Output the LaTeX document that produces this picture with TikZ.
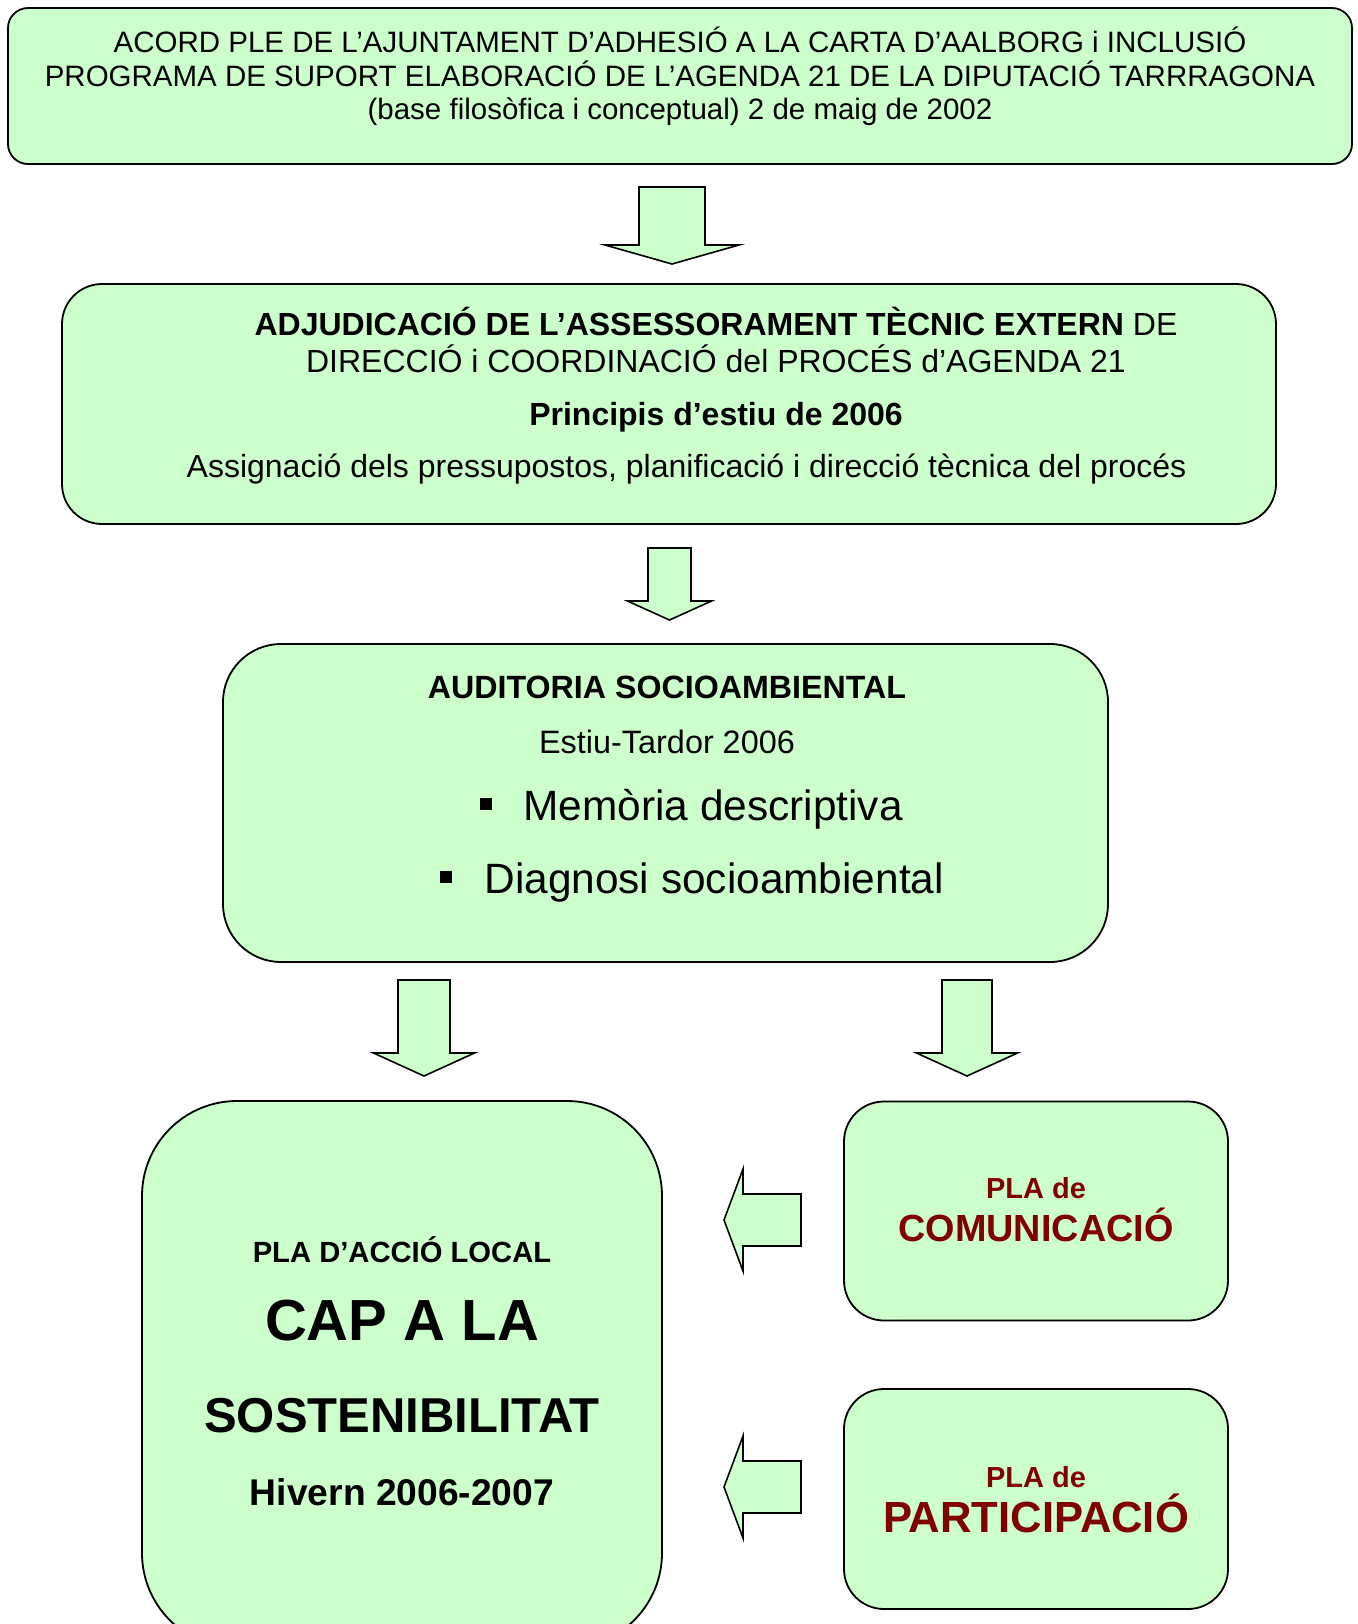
\documentclass[tikz,border=0pt]{standalone}
\usepackage{fontspec}
\setmainfont{Liberation Sans}
\usepackage{xcolor}
\definecolor{boxgreen}{RGB}{204,255,204}
\definecolor{plared}{RGB}{128,0,0}
\newcommand\fsz[1]{\fontsize{#1}{#1}\selectfont}
\tikzset{%
	box/.style        = {draw, fill=boxgreen, line width=0.9pt, inner sep=0pt, rounded corners=#1},
	blockarrow/.style = {draw, fill=boxgreen, line width=0.8pt, line join=miter},
	txt/.style        = {anchor=base, inner sep=0pt},
	bulletsq/.style   = {fill=black, inner sep=0pt, minimum size=6pt},
}
\begin{document}
\begin{tikzpicture}[x=0.5pt,y=-0.5pt]
	\useasboundingbox (0,0) rectangle (1358,1624);
	\clip (0,0) rectangle (1358,1624);
	% boxes
	\node[box=10pt, minimum width=672pt, minimum height=78pt] (acord) at (680,86) {};
	\node[box=20pt, minimum width=607pt, minimum height=120pt] (adjud) at (669,404) {};
	\node[box=29pt, minimum width=442.5pt, minimum height=159pt] (audit) at (665.5,803) {};
	\node[box=47.5pt, minimum width=260pt, minimum height=273.5pt] (pla) at (402,1374.5) {};
	\node[box=20pt, minimum width=192pt, minimum height=109.5pt] (comun) at (1036,1211) {};
	\node[box=20pt, minimum width=192pt, minimum height=110pt] (partic) at (1036,1499) {};
	% block arrows
	\foreach \cx/\sw/\hw/\yt/\yh/\yb in {672/33/67/187/245/264, 669.5/21.5/42/548/601/620,
	                                     424/26/50.5/980/1053/1076, 967/25/50.5/980/1053/1076}
		\draw[blockarrow] ({\cx-\sw},\yt) -- ({\cx+\sw},\yt) -- ({\cx+\sw},\yh) -- ({\cx+\hw},\yh)
			-- (\cx,\yb) -- ({\cx-\hw},\yh) -- ({\cx-\sw},\yh) -- cycle;
	\foreach \cy in {1220,1487}
		\draw[blockarrow] (801,{\cy-26}) -- (801,{\cy+26}) -- (743,{\cy+26}) -- (743,{\cy+51})
			-- (724,\cy) -- (743,{\cy-51}) -- (743,{\cy-26}) -- cycle;
	% texts
	\node[txt, font=\fsz{14.75}] (acord1) at (680,52.7) {ACORD PLE DE L’AJUNTAMENT D’ADHESIÓ A LA CARTA D’AALBORG i INCLUSIÓ};
	\node[txt, font=\fsz{14.75}] (acord2) at (680,86) {PROGRAMA DE SUPORT ELABORACIÓ DE L’AGENDA 21 DE LA DIPUTACIÓ TARRRAGONA};
	\node[txt, font=\fsz{14.75}] (acord3) at (680,119.5) {(base filosòfica i conceptual) 2 de maig de 2002};
	\node[txt, font=\fsz{16}] (adjud1) at (716,335) {\textbf{ADJUDICACIÓ DE L’ASSESSORAMENT TÈCNIC EXTERN} DE};
	\node[txt, font=\fsz{16}] (adjud2) at (716,372) {DIRECCIÓ i COORDINACIÓ del PROCÉS d’AGENDA 21};
	\node[txt, font=\fsz{16}\bfseries] (adjud3) at (716,425) {Principis d’estiu de 2006};
	\node[txt, font=\fsz{16}] (adjud4) at (686.5,477) {Assignació dels pressupostos, planificació i direcció tècnica del procés};
	\node[txt, font=\fsz{16.1}\bfseries] (audit1) at (667,698) {AUDITORIA SOCIOAMBIENTAL};
	\node[txt, font=\fsz{16.2}] (audit2) at (667,753) {Estiu-Tardor 2006};
	\node[bulletsq] (bul1) at (485.5,803.5) {};
	\node[bulletsq] (bul2) at (445.5,876.5) {};
	\node[txt, anchor=base west, font=\fsz{21.2}] (audit3) at (523,820) {Memòria descriptiva};
	\node[txt, anchor=base west, font=\fsz{21.2}] (audit4) at (484,893) {Diagnosi socioambiental};
	\node[txt, font=\fsz{14.6}\bfseries] (pla1) at (402,1262) {PLA D’ACCIÓ LOCAL};
	\node[txt, font=\fsz{29}\bfseries] (pla2) at (402,1340) {CAP A LA};
	\node[txt, font=\fsz{24.5}\bfseries] (pla3) at (402,1432) {SOSTENIBILITAT};
	\node[txt, font=\fsz{18.6}\bfseries] (pla4) at (402,1505) {Hivern 2006-2007};
	\node[txt, font=\fsz{14.5}\bfseries, text=plared] (comun1) at (1036,1198) {PLA de};
	\node[txt, font=\fsz{18.9}\bfseries, text=plared] (comun2) at (1036,1241) {COMUNICACIÓ};
	\node[txt, font=\fsz{14.5}\bfseries, text=plared] (partic1) at (1036,1487) {PLA de};
	\node[txt, font=\fsz{21.8}\bfseries, text=plared] (partic2) at (1036,1532) {PARTICIPACIÓ};
\end{tikzpicture}
\end{document}
